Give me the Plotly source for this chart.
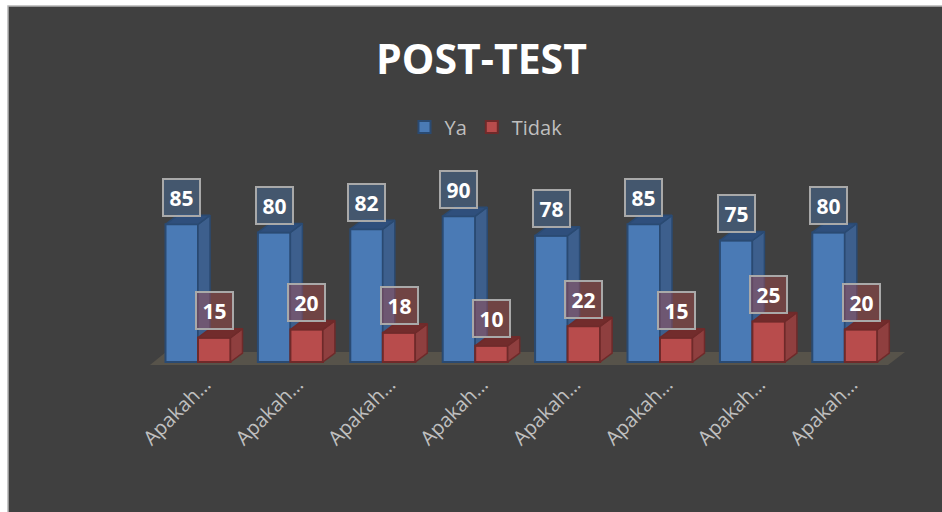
import plotly.graph_objects as go

categories = ["Apakah…"] * 8
ya = [85, 80, 82, 90, 78, 85, 75, 80]
tidak = [15, 20, 18, 10, 22, 15, 25, 20]

PANEL = "#404040"
FONT = "Open Sans"
W, H = 942, 512
L, T, B = 8, 6, 146
UNIT_X = 92.4      # px per category
UNIT_Y = 1.62      # px per value unit
BAR = 32.5 / UNIT_X
DX = 12 / UNIT_X
DY = 9 / UNIT_Y
xr = [(L - 198) / UNIT_X, (W - 198) / UNIT_X]
yr = [-4 / UNIT_Y, 356 / UNIT_Y]
xs = list(range(len(categories)))

fig = go.Figure()


def add_series(name, values, offset, front, side, top, edge, xa, ya_name):
    fig.add_trace(go.Bar(x=xs, y=values, name=name, offset=offset, width=BAR,
                         marker=dict(color=front, line=dict(color=edge, width=2)),
                         xaxis=xa, yaxis=ya_name, hoverinfo="skip"))
    for i, v in zip(xs, values):
        x0, x1 = i + offset, i + offset + BAR
        fig.add_trace(go.Scatter(
            x=[x1, x1 + DX, x1 + DX, x1, x1], y=[0, DY, v + DY, v, 0],
            mode="lines", fill="toself", fillcolor=side, line=dict(color=edge, width=1.5),
            xaxis=xa, yaxis=ya_name, showlegend=False, hoverinfo="skip"))
        fig.add_trace(go.Scatter(
            x=[x0, x0 + DX, x1 + DX, x1, x0], y=[v, v + DY, v + DY, v, v],
            mode="lines", fill="toself", fillcolor=top, line=dict(color=edge, width=1.5),
            xaxis=xa, yaxis=ya_name, showlegend=False, hoverinfo="skip"))


add_series("Ya", ya, -BAR, "#4a7ab5", "#3d5f8d", "#2f4f7c", "#2a4a72", "x", "y")
add_series("Tidak", tidak, 0, "#b84c4c", "#8f3f3f", "#722c2c", "#6f2a2a", "x2", "y2")

annotations = [dict(x=(481 - L) / (W - L), y=1 - (58 - T) / (H - T - B), xref="paper", yref="paper",
                    showarrow=False, text="<b>POST-TEST</b>",
                    font=dict(family=FONT, size=41, color="white"),
                    xanchor="center", yanchor="middle")]
for series, off, fill in ((ya, -BAR / 2, "rgba(74,122,181,0.4)"), (tidak, BAR / 2, "rgba(184,76,76,0.4)")):
    for i, v in zip(xs, series):
        annotations.append(dict(x=i + off, y=v, xref="x2", yref="y2", showarrow=False,
                                text="<b>%d</b>" % v, yshift=27, width=33, height=33,
                                bgcolor=fill, bordercolor="#a9a9a9", borderwidth=2,
                                font=dict(family=FONT, size=21, color="white"),
                                xanchor="center", yanchor="middle"))

shapes = [
    dict(type="rect", xref="paper", yref="paper", x0=0, x1=1.02, y0=-(B + 10) / (H - T - B), y1=1,
         fillcolor=PANEL, line=dict(color="#b5b5b5", width=1.5), layer="below"),
    dict(type="path", xref="x", yref="y", layer="below", fillcolor="#57534a", line=dict(width=0),
         path="M %f %f L %f %f L %f %f L %f %f Z" % (
             -48 / UNIT_X, -3 / UNIT_Y, -32 / UNIT_X, 10 / UNIT_Y,
             707 / UNIT_X, 10 / UNIT_Y, 690 / UNIT_X, -3 / UNIT_Y)),
]

axis_common = dict(range=xr, showgrid=False, zeroline=False)
fig.update_layout(
    width=W, height=H, autosize=False, barmode="overlay",
    margin=dict(l=L, r=0, t=T, b=B),
    paper_bgcolor="white", plot_bgcolor="rgba(0,0,0,0)",
    font=dict(family=FONT, color="#bfbfbf"),
    xaxis=dict(tickmode="array", tickvals=xs, ticktext=categories, tickangle=-45,
               ticks="", showline=False, ticklabelstandoff=2, ticklabelshift=7,
               tickfont=dict(family=FONT, size=20, color="#bfbfbf"),
               **axis_common),
    xaxis2=dict(overlaying="x", visible=False, **axis_common),
    yaxis=dict(range=yr, visible=False),
    yaxis2=dict(range=yr, visible=False, overlaying="y"),
    legend=dict(orientation="h", x=(486 - L) / (W - L), xanchor="center",
                y=1 - (127 - T) / (H - T - B), yanchor="middle",
                font=dict(family=FONT, size=20, color="#bfbfbf"),
                bgcolor="rgba(0,0,0,0)", itemclick=False, itemdoubleclick=False),
    annotations=annotations, shapes=shapes, showlegend=True,
)
fig.write_html("out.html", config=dict(displayModeBar=False),
               post_script="document.body.style.margin='0';document.body.style.overflow='hidden';")
